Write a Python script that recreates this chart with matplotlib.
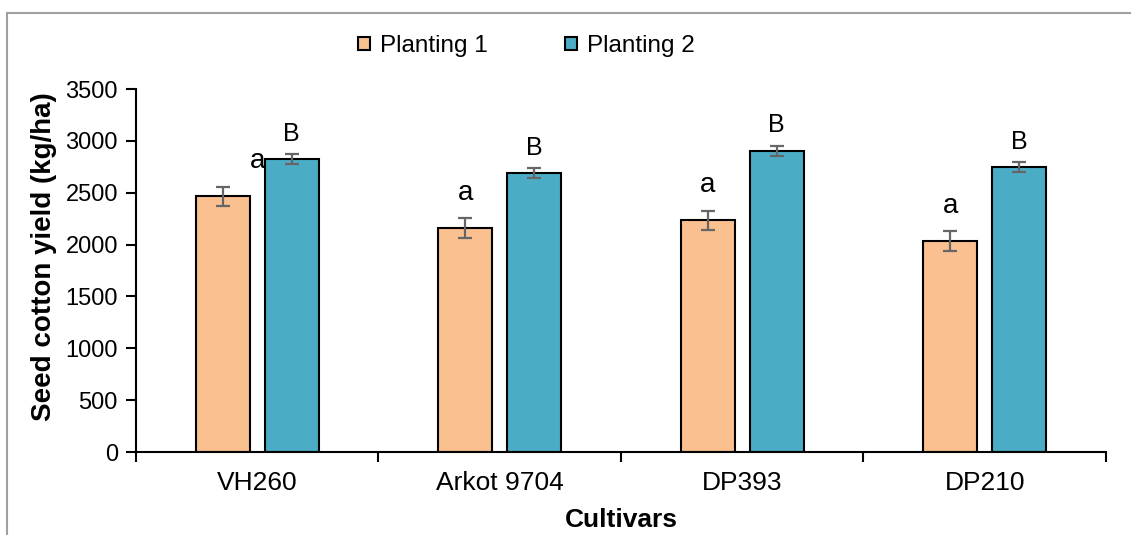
import numpy as np
import matplotlib.pyplot as plt
from matplotlib.lines import Line2D

plt.rcParams['font.family'] = ['Liberation Sans', 'DejaVu Sans']

cultivars = ['VH260', 'Arkot 9704', 'DP393', 'DP210']
planting1 = [2465, 2160, 2235, 2035]
planting2 = [2822, 2688, 2905, 2748]
err1 = [95, 93, 92, 92]
err2 = [48, 48, 48, 48]
letters1 = ['a', 'a', 'a', 'a']
letters2 = ['B', 'B', 'B', 'B']

c1 = '#FAC090'
c2 = '#4BACC6'

fig = plt.figure(figsize=(11.31, 5.35), dpi=100)
ax = fig.add_axes([0.1202, 0.1551, 0.8577, 0.6785])

x = np.arange(len(cultivars))
w = 0.223
off = 0.142
ekw = dict(ecolor='#666666', elinewidth=1.6, capsize=5, capthick=1.6)
ax.bar(x - off, planting1, w, yerr=err1, color=c1, edgecolor='black',
       linewidth=1.5, error_kw=ekw, label='Planting 1', zorder=2)
ax.bar(x + off, planting2, w, yerr=err2, color=c2, edgecolor='black',
       linewidth=1.5, error_kw=ekw, label='Planting 2', zorder=2)

# significance letters above the error bars
for i in range(len(cultivars)):
    dx = 25 if i == 0 else 0
    ax.annotate(letters1[i], (x[i] - off, planting1[i] + err1[i]),
                xytext=(dx, 9), textcoords='offset points',
                ha='center', va='bottom', fontsize=20)
    ax.annotate(letters2[i], (x[i] + off, planting2[i] + err2[i]),
                xytext=(0, 6), textcoords='offset points',
                ha='center', va='bottom', fontsize=18)

ax.set_xlim(-0.5, len(cultivars) - 0.5)
ax.set_ylim(0, 3500)
ax.set_yticks(np.arange(0, 3501, 500))
ax.set_xticks(x)
ax.set_xticklabels(cultivars)
ax.set_xticks(np.arange(-0.5, len(cultivars), 1), minor=True)
ax.tick_params(axis='x', which='major', length=0, pad=14, labelsize=19)
ax.tick_params(axis='x', which='minor', length=7, width=1.5, direction='out')
ax.tick_params(axis='y', length=7, width=1.5, labelsize=17, pad=6)

for s in ['top', 'right']:
    ax.spines[s].set_visible(False)
for s in ['left', 'bottom']:
    ax.spines[s].set_linewidth(1.5)

ax.set_ylabel('Seed cotton yield (kg/ha)', fontsize=20, fontweight='bold')
ax.yaxis.set_label_coords(-0.081, 0.537)
ax.set_xlabel('Cultivars', fontsize=19, fontweight='bold', labelpad=9)

ax.legend(loc='center left', bbox_to_anchor=(0.206, 1.118), ncol=2, frameon=False,
          fontsize=17.5, handlelength=0.5, handleheight=0.5, handletextpad=0.4,
          columnspacing=3.2)

# outer frame: top and left edges only
fig.add_artist(Line2D([7 / 1131, 1], [1 - 13 / 535, 1 - 13 / 535],
                      color='#a0a0a0', linewidth=1.5))
fig.add_artist(Line2D([7 / 1131, 7 / 1131], [0, 1 - 13 / 535],
                      color='#a0a0a0', linewidth=1.5))

fig.savefig('out.png', dpi=100)
